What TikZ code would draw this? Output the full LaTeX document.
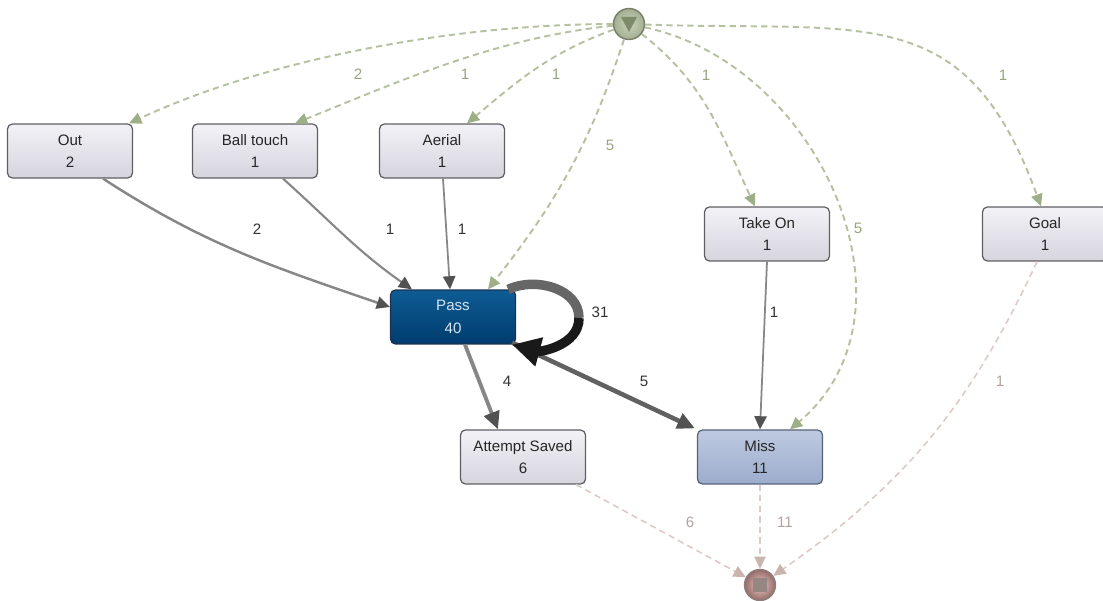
\documentclass[tikz,border=0pt]{standalone}
\usepackage{fontspec}
\setmainfont{Liberation Sans}
\usetikzlibrary{arrows.meta}

\definecolor{boxtop}{RGB}{243,242,247}
\definecolor{boxbot}{RGB}{214,212,221}
\definecolor{boxline}{RGB}{95,95,98}
\definecolor{passtop}{RGB}{14,92,148}
\definecolor{passbot}{RGB}{0,60,110}
\definecolor{passline}{RGB}{28,50,78}
\definecolor{passtext}{RGB}{214,228,242}
\definecolor{misstop}{RGB}{190,202,225}
\definecolor{missbot}{RGB}{156,172,204}
\definecolor{missline}{RGB}{88,98,118}
\definecolor{greenline}{RGB}{181,193,160}
\definecolor{greentip}{RGB}{158,174,134}
\definecolor{greentext}{RGB}{150,165,125}
\definecolor{pinkline}{RGB}{221,202,198}
\definecolor{pinktip}{RGB}{202,180,174}
\definecolor{pinktext}{RGB}{178,163,158}
\definecolor{grayline}{RGB}{135,135,135}
\definecolor{graytip}{RGB}{82,82,82}

\begin{document}
\begin{tikzpicture}[x=0.02cm,y=-0.02cm,
    every node/.style={font=\fontsize{8.6}{12.8}\selectfont},
    event/.style={draw=boxline,line width=0.7pt,rounded corners=2.8pt,
        minimum width=2.5cm,minimum height=1.08cm,inner sep=0pt,align=center,
        top color=boxtop,bottom color=boxbot,text=black!85},
    passbox/.style={event,draw=passline,top color=passtop,bottom color=passbot,text=passtext},
    missbox/.style={event,draw=missline,top color=misstop,bottom color=missbot},
    startdot/.style={circle,draw=black!35!greenline,line width=0.8pt,minimum size=0.62cm,
        inner sep=0pt,inner color=greenline!70!white,outer color=greenline!90!black},
    enddot/.style={circle,draw=pinktip!70!black,line width=0.8pt,minimum size=0.62cm,
        inner sep=0pt,inner color=pinkline!80!red!60!white,outer color=pinktip!85!red!70!black},
    startedge/.style={draw=greenline,line width=1.1pt,dash pattern=on 3.6pt off 2.4pt,
        -{Triangle[length=7pt,width=6.5pt,color=greentip]}},
    endedge/.style={draw=pinkline,line width=0.9pt,dash pattern=on 3.6pt off 2.4pt,
        -{Triangle[length=7pt,width=6.5pt,color=pinktip]}},
    flow/.style={draw=grayline,-{Triangle[length=7.5pt,width=7pt,color=graytip]}},
    bigflow/.style={draw=grayline,-{Triangle[length=10pt,width=9pt,color=graytip]}},
    glabel/.style={text=greentext},
    plabel/.style={text=pinktext},
    flabel/.style={text=black!80}]

    \useasboundingbox (0,0) rectangle (1103,601);

    % events
    \node[event] (out) at (70,151) {Out\\2};
    \node[event] (touch) at (255,151) {Ball touch\\1};
    \node[event] (aerial) at (442,151) {Aerial\\1};
    \node[passbox] (pass) at (453,317) {Pass\\40};
    \node[event] (takeon) at (767,234) {Take On\\1};
    \node[event] (goal) at (1045,234) {Goal\\1};
    \node[event] (saved) at (523,457) {Attempt Saved\\6};
    \node[missbox] (miss) at (760,457) {Miss\\11};

    % start and end
    \node[startdot] (start) at (629,24) {};
        \fill[greentip!80!black] ([shift={(-8,-7)}]start.center) -- ([shift={(8,-7)}]start.center)
            -- ([shift={(0,8)}]start.center) -- cycle;
    \node[enddot] (finish) at (760,585) {};
        \fill[pinktip!75!black] ([shift={(-7,-7)}]finish.center) rectangle ([shift={(7,7)}]finish.center);

    % from start
    \draw[startedge] (start) to[out=180,in=25,looseness=0.8] ([shift={(-4,0)}]out.north east)
        node[glabel] (l-out) at (358,74) {2};
    \draw[startedge] (start) to[out=186,in=22,looseness=0.9] ([shift={(40,0)}]touch.north)
        node[glabel] (l-touch) at (465,74) {1};
    \draw[startedge] (start) to[out=200,in=40] ([shift={(25,0)}]aerial.north)
        node[glabel] (l-aerial) at (556,74) {1};
    \draw[startedge] (start) to[out=252,in=52] ([shift={(35,0)}]pass.north)
        node[glabel] (l-spass) at (610,145) {5};
    \draw[startedge] (start) to[out=-38,in=115] ([shift={(-12,0)}]takeon.north)
        node[glabel] (l-takeon) at (706,75) {1};
    \draw[startedge] (start) to[out=-12,in=40,looseness=1.08] ([shift={(30,0)}]miss.north)
        node[glabel] (l-smiss) at (858,228) {5};
    \draw[startedge] (start) to[out=-2,in=110,looseness=1.3] ([shift={(-4,0)}]goal.north)
        node[glabel] (l-goal) at (1003,75) {1};

    % flows
    \draw[flow,line width=1.4pt] ([shift={(33,0)}]out.south) to[out=-33,in=161] ([shift={(0,-10)}]pass.west)
        node[flabel] (l-outpass) at (257,229) {2};
    \draw[flow,line width=1.2pt] ([shift={(28,0)}]touch.south) to[out=-42,in=145] ([shift={(-41,0)}]pass.north)
        node[flabel] (l-touchpass) at (390,229) {1};
    \draw[flow,line width=1pt] ([shift={(1,0)}]aerial.south) -- ([shift={(-3,0)}]pass.north)
        node[flabel] (l-aerialpass) at (462,229) {1};
    \draw[bigflow,line width=2.2pt] ([shift={(12,0)}]pass.south) -- ([shift={(-25,0)}]saved.north)
        node[flabel] (l-saved) at (507,381) {4};
    \draw[bigflow,line width=2.6pt,draw=black!62] ([shift={(-4,-2)}]pass.south east) -- ([shift={(-2,-1)}]miss.north west)
        node[flabel] (l-passmiss) at (644,381) {5};
    \draw[flow,line width=1pt] (takeon.south) -- (miss.north)
        node[flabel] (l-takeonmiss) at (774,312) {1};

    % self loop
    \coordinate (loopR) at (579,318);
    \draw[line width=5.4pt,draw=black!60] ([shift={(-8,0)}]pass.north east) to[out=25,in=90] (loopR);
    \draw[line width=5.4pt,draw=black!90,-{Triangle[length=16pt,width=16pt]}] (loopR) to[out=-90,in=-15] ([shift={(-4,0)}]pass.south east);
    \node[flabel] (l-loop) at (600,312) {31};

    % to end
    \draw[endedge] ([shift={(-10,0)}]saved.south east) -- (finish)
        node[plabel] (l-savedend) at (690,522) {6};
    \draw[endedge] (miss.south) -- (finish)
        node[plabel] (l-missend) at (785,522) {11};
    \draw[endedge] ([shift={(-8,0)}]goal.south) to[bend left=15] (finish)
        node[plabel] (l-goalend) at (1000,381) {1};
\end{tikzpicture}
\end{document}
